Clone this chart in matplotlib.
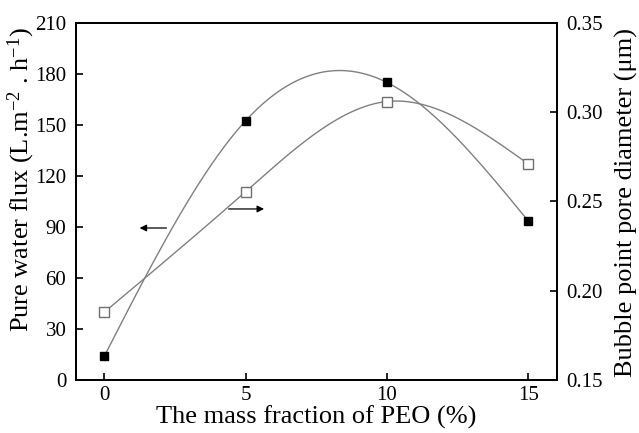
import matplotlib
matplotlib.use("Agg")
import matplotlib.pyplot as plt
import numpy as np

peo = [0, 5, 10, 15]
flux = [14, 152.5, 175, 93.5]
pore = [0.188, 0.2555, 0.306, 0.271]

plt.rcParams["font.family"] = ["Liberation Serif", "DejaVu Serif"]
plt.rcParams["mathtext.fontset"] = "custom"
plt.rcParams["mathtext.rm"] = "Liberation Serif"
plt.rcParams["mathtext.it"] = "Liberation Serif:italic"


def natural_spline(x, y, xs):
    # natural cubic spline through the points
    x = np.asarray(x, float)
    y = np.asarray(y, float)
    n = len(x)
    h = np.diff(x)
    A = np.zeros((n, n))
    b = np.zeros(n)
    A[0, 0] = A[-1, -1] = 1
    for i in range(1, n - 1):
        A[i, i - 1] = h[i - 1]
        A[i, i] = 2 * (h[i - 1] + h[i])
        A[i, i + 1] = h[i]
        b[i] = 3 * ((y[i + 1] - y[i]) / h[i] - (y[i] - y[i - 1]) / h[i - 1])
    c = np.linalg.solve(A, b)
    out = np.empty_like(xs)
    for k, xv in enumerate(xs):
        i = min(np.searchsorted(x, xv, side="right") - 1, n - 2)
        i = max(i, 0)
        dx = xv - x[i]
        bi = (y[i + 1] - y[i]) / h[i] - h[i] * (2 * c[i] + c[i + 1]) / 3
        di = (c[i + 1] - c[i]) / (3 * h[i])
        out[k] = y[i] + bi * dx + c[i] * dx ** 2 + di * dx ** 3
    return out


fig = plt.figure(figsize=(6.39, 4.33), dpi=100)
ax = fig.add_axes([0.119, 0.1224, 0.752, 0.8246])
ax2 = ax.twinx()

xs = np.linspace(0, 15, 300)
ax.plot(xs, natural_spline(peo, flux, xs), color="#808080", lw=1.0)
ax2.plot(xs, natural_spline(peo, pore, xs), color="#808080", lw=1.0)
ax.plot(peo, flux, "s", color="black", ms=6, zorder=5)
ax2.plot(peo, pore, "s", mfc="white", mec="#707070", mew=1.0, ms=6.5, zorder=5)

ax.annotate("", xy=(1.15, 89.4), xytext=(2.3, 89.4),
            arrowprops=dict(arrowstyle="-|>", color="black", lw=0.9, mutation_scale=10))
ax2.annotate("", xy=(5.75, 0.2458), xytext=(4.3, 0.2458),
             arrowprops=dict(arrowstyle="-|>", color="black", lw=0.9, mutation_scale=10))

ax.set_xlim(-1, 16)
ax.set_ylim(0, 210)
ax2.set_ylim(0.15, 0.35)
ax.set_xticks([0, 5, 10, 15])
ax.set_yticks(np.arange(0, 211, 30))
ax2.set_yticks([0.15, 0.20, 0.25, 0.30, 0.35])
ax2.set_yticklabels(["0.15", "0.20", "0.25", "0.30", "0.35"])

ax.tick_params(direction="in", length=5, width=1.2, labelsize=15, pad=7, top=False, right=False)
ax.tick_params(axis="x", pad=4)
ax2.tick_params(direction="in", length=5, width=1.2, labelsize=15, pad=7)
for a in (ax, ax2):
    for s in a.spines.values():
        s.set_linewidth(1.3)

ax.set_xlabel("The mass fraction of PEO (%)", fontsize=19)
ax.set_ylabel("Pure water flux (L.m$^{-2}$ . h$^{-1}$)", fontsize=19)
ax2.set_ylabel("Bubble point pore diameter (\u03bcm)", fontsize=19)
ax.xaxis.set_label_coords(0.5, -0.072)
ax.yaxis.set_label_coords(-0.082, 0.56)
ax2.yaxis.set_label_coords(1.121, 0.496)

fig.savefig("out.png", dpi=100)
